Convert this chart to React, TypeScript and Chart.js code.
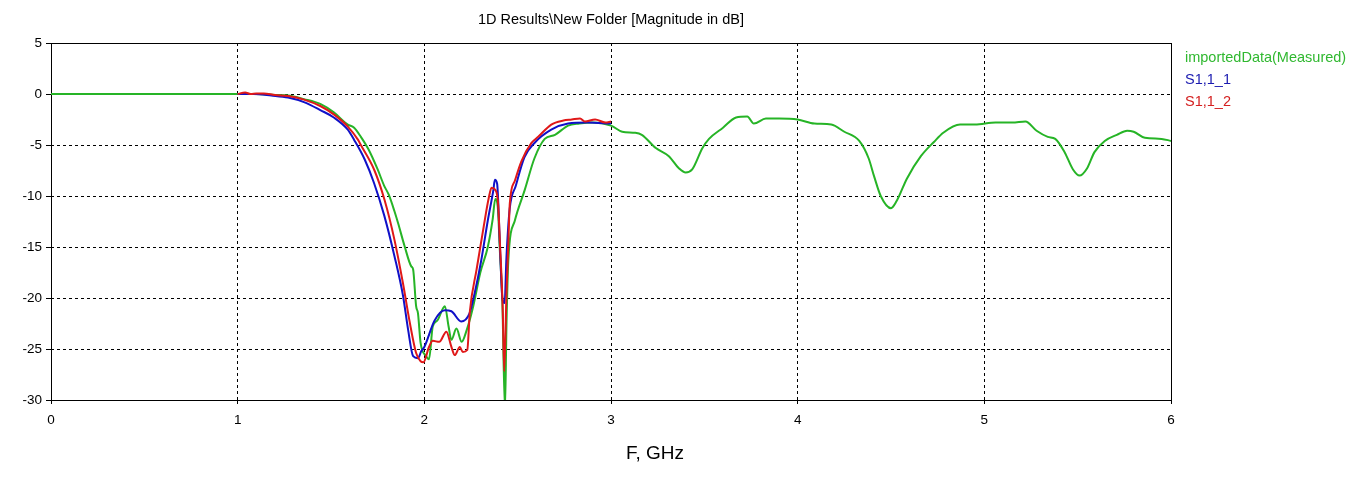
import React, { useEffect, useRef } from "react";
import { Chart, registerables } from "chart.js";

Chart.register(...registerables);

// ---------- data ----------
const chartTitle = "1D Results\\New Folder [Magnitude in dB]";
const xAxisTitle = "F, GHz";
const seriesNames = ["importedData(Measured)", "S1,1_1", "S1,1_2"];
const xTicks = [0, 1, 2, 3, 4, 5, 6];
const yTicks = [5, 0, -5, -10, -15, -20, -25, -30];

const measuredFreq = [
  0, 1.0, 1.1, 1.2, 1.27, 1.355, 1.445, 1.515, 1.59, 1.624, 1.66, 1.7, 1.75, 1.785, 1.81, 1.84, 1.86,
  1.894, 1.93, 1.94, 1.956, 1.966, 1.98, 2.01, 2.025, 2.045, 2.07, 2.11, 2.13, 2.145, 2.172, 2.2,
  2.226, 2.262, 2.3, 2.34, 2.366, 2.38, 2.393, 2.405, 2.418, 2.432, 2.44, 2.45, 2.485, 2.538, 2.59,
  2.645, 2.7, 2.77, 2.83, 2.9, 3.0, 3.06, 3.13, 3.165, 3.24, 3.31, 3.365, 3.4, 3.435, 3.49, 3.525,
  3.6, 3.67, 3.73, 3.765, 3.83, 3.9, 4.0, 4.09, 4.18, 4.25, 4.33, 4.38, 4.41, 4.445, 4.5, 4.53, 4.585,
  4.66, 4.73, 4.78, 4.87, 4.95, 5.06, 5.15, 5.22, 5.28, 5.34, 5.38, 5.43, 5.475, 5.51, 5.55, 5.59,
  5.645, 5.71, 5.765, 5.8, 5.86, 5.95, 6.0,
];
const measuredDb = [
  0, 0, 0, -0.1, -0.15, -0.5, -1.0, -1.8, -3.0, -3.3, -4.2, -5.4, -7.4, -9.0, -9.9, -11.5, -12.7,
  -14.9, -16.9, -17.2, -20.8, -21.5, -24.4, -25.7, -26.0, -22.8, -22.2, -20.8, -22.8, -24.1, -23.0, -24.3,
  -23.2, -20.8, -17.5, -15.0, -12.3, -10.3, -11.0, -15.5, -20.4, -31, -22.7, -16.3, -12.4, -9.4, -6.3,
  -4.4, -4.0, -3.1, -2.9, -2.8, -3.1, -3.7, -3.8, -4.0, -5.3, -6.1, -7.3, -7.7, -7.4, -5.3, -4.4,
  -3.3, -2.3, -2.2, -2.9, -2.4, -2.4, -2.5, -2.9, -3.0, -3.7, -4.6, -6.3, -8.1, -10.0, -11.2, -10.5, -8.3,
  -6.1, -4.7, -3.8, -3.0, -3.0, -2.8, -2.8, -2.7, -3.6, -4.2, -4.4, -5.7, -7.4, -8.0, -7.3, -5.7,
  -4.6, -4.0, -3.6, -3.7, -4.3, -4.4, -4.6,
];

const s11aFreq = [
  1.0, 1.086, 1.18, 1.27, 1.355, 1.445, 1.515, 1.59, 1.624, 1.68, 1.73, 1.785, 1.84, 1.886, 1.913,
  1.94, 1.966, 1.984, 2.0, 2.055, 2.11, 2.145, 2.197, 2.242, 2.27, 2.305, 2.34, 2.37, 2.378, 2.39,
  2.405, 2.418, 2.43, 2.44, 2.457, 2.49, 2.536, 2.59, 2.68, 2.77, 2.875, 3.0,
];
const s11aDb = [
  0, 0, -0.15, -0.35, -0.8, -1.6, -2.3, -3.5, -4.5, -6.4, -8.7, -11.9, -15.9, -19.8, -23.1,
  -25.7, -25.9, -25.2, -24.8, -22.2, -21.2, -21.3, -22.3, -21.5, -19.5, -16.3, -12.4, -9.4, -8.4, -8.8,
  -14.9, -20.0, -20.5, -16.0, -11.3, -9.0, -6.2, -4.8, -3.5, -2.9, -2.8, -2.9,
];

const s11bFreq = [
  1.0, 1.04, 1.07, 1.1, 1.14, 1.2, 1.27, 1.355, 1.445, 1.515, 1.59, 1.645, 1.66, 1.733, 1.787, 1.84,
  1.886, 1.92, 1.956, 1.98, 1.995, 2.025, 2.045, 2.08, 2.118, 2.145, 2.163, 2.19, 2.206, 2.23, 2.244,
  2.28, 2.318, 2.345, 2.36, 2.38, 2.395, 2.405, 2.42, 2.428, 2.44, 2.45, 2.458, 2.485, 2.52, 2.574,
  2.61, 2.68, 2.745, 2.79, 2.834, 2.86, 2.915, 2.97, 3.0,
];
const s11bDb = [
  0, 0.15, 0, 0.05, 0.05, -0.1, -0.2, -0.55, -1.2, -2.0, -3.2, -4.5, -5.0, -7.5, -10.4, -14.3,
  -18.6, -22.2, -25.4, -26.2, -26.3, -24.8, -24.2, -24.3, -23.3, -24.8, -25.6, -24.8, -25.3, -25.1, -21.3,
  -17.2, -13.0, -10.2, -9.2, -9.4, -10.7, -14.6, -21.1, -27.2, -19.6, -14.6, -10.7, -8.5, -6.6, -4.8,
  -4.2, -3.0, -2.6, -2.5, -2.4, -2.7, -2.5, -2.8, -2.7,
];

const lineColors = ["#26b426", "#1010c8", "#e01818"];
const textColors = ["#30b830", "#1a1ab0", "#d42020"];

const toPoints = (xs: number[], ys: number[]) => xs.map((x, i) => ({ x, y: ys[i] }));

const overlayPlugin = {
  id: "overlay",
  beforeDatasetsDraw(chart: any) {
    const { ctx, chartArea } = chart;
    ctx.save();
    ctx.strokeStyle = "#000";
    ctx.lineWidth = 1;
    ctx.setLineDash([]);
    ctx.strokeRect(
      Math.round(chartArea.left) + 0.5,
      Math.round(chartArea.top) + 0.5,
      Math.round(chartArea.right - chartArea.left),
      Math.round(chartArea.bottom - chartArea.top)
    );
    ctx.restore();
  },
  afterDraw(chart: any) {
    const { ctx, chartArea } = chart;
    ctx.save();
    ctx.fillStyle = "#000";
    ctx.textAlign = "center";
    ctx.textBaseline = "middle";
    ctx.font = "14.5px 'Liberation Sans', Arial, sans-serif";
    ctx.fillText(chartTitle, (chartArea.left + chartArea.right) / 2, 20);
    ctx.font = "19px 'Liberation Sans', Arial, sans-serif";
    ctx.fillText(xAxisTitle, 655, 454);
    ctx.textAlign = "left";
    ctx.font = "14.5px 'Liberation Sans', Arial, sans-serif";
    seriesNames.forEach((name, i) => {
      ctx.fillStyle = textColors[i];
      ctx.fillText(name, chartArea.right + 14, 58 + i * 22);
    });
    ctx.restore();
  },
};

export default function App() {
  const canvasRef = useRef<HTMLCanvasElement | null>(null);

  useEffect(() => {
    if (!canvasRef.current) return;
    const tickFont = { family: "'Liberation Sans', Arial, sans-serif", size: 13.5 };
    const chart = new Chart(canvasRef.current, {
      type: "line",
      data: {
        datasets: [
          {
            label: seriesNames[0],
            data: toPoints(measuredFreq, measuredDb),
            borderColor: lineColors[0],
            order: 3,
          },
          {
            label: seriesNames[1],
            data: toPoints(s11aFreq, s11aDb),
            borderColor: lineColors[1],
            order: 2,
          },
          {
            label: seriesNames[2],
            data: toPoints(s11bFreq, s11bDb),
            borderColor: lineColors[2],
            order: 1,
          },
        ],
      },
      options: {
        responsive: false,
        animation: false,
        layout: { padding: { left: 0, top: 43, right: 183, bottom: 0 } },
        elements: {
          point: { radius: 0 },
          line: { borderWidth: 2, cubicInterpolationMode: "monotone", fill: false },
        },
        plugins: {
          legend: { display: false },
          title: { display: false },
          tooltip: { enabled: false },
        },
        scales: {
          x: {
            type: "linear",
            min: 0,
            max: 6,
            afterBuildTicks: (scale: any) => {
              scale.ticks = xTicks.map((v) => ({ value: v }));
            },
            afterFit: (scale: any) => {
              scale.height = 96;
            },
            ticks: { color: "#000", font: tickFont, padding: 8, maxRotation: 0 },
            grid: { color: "#000", lineWidth: 1, tickLength: 4 },
            border: { display: false, dash: [3, 3] },
          },
          y: {
            type: "linear",
            min: -30,
            max: 5,
            afterBuildTicks: (scale: any) => {
              scale.ticks = yTicks.map((v) => ({ value: v }));
            },
            afterFit: (scale: any) => {
              scale.width = 51;
            },
            ticks: { color: "#000", font: tickFont, padding: 4 },
            grid: { color: "#000", lineWidth: 1, tickLength: 5 },
            border: { display: false, dash: [3, 3] },
          },
        },
      },
      plugins: [overlayPlugin],
    } as any);
    return () => chart.destroy();
  }, []);

  return (
    <div style={{ position: "absolute", left: 0, top: 0, width: 1354, height: 496, background: "#fff" }}>
      <canvas ref={canvasRef} width={1354} height={496} style={{ display: "block" }} />
    </div>
  );
}
